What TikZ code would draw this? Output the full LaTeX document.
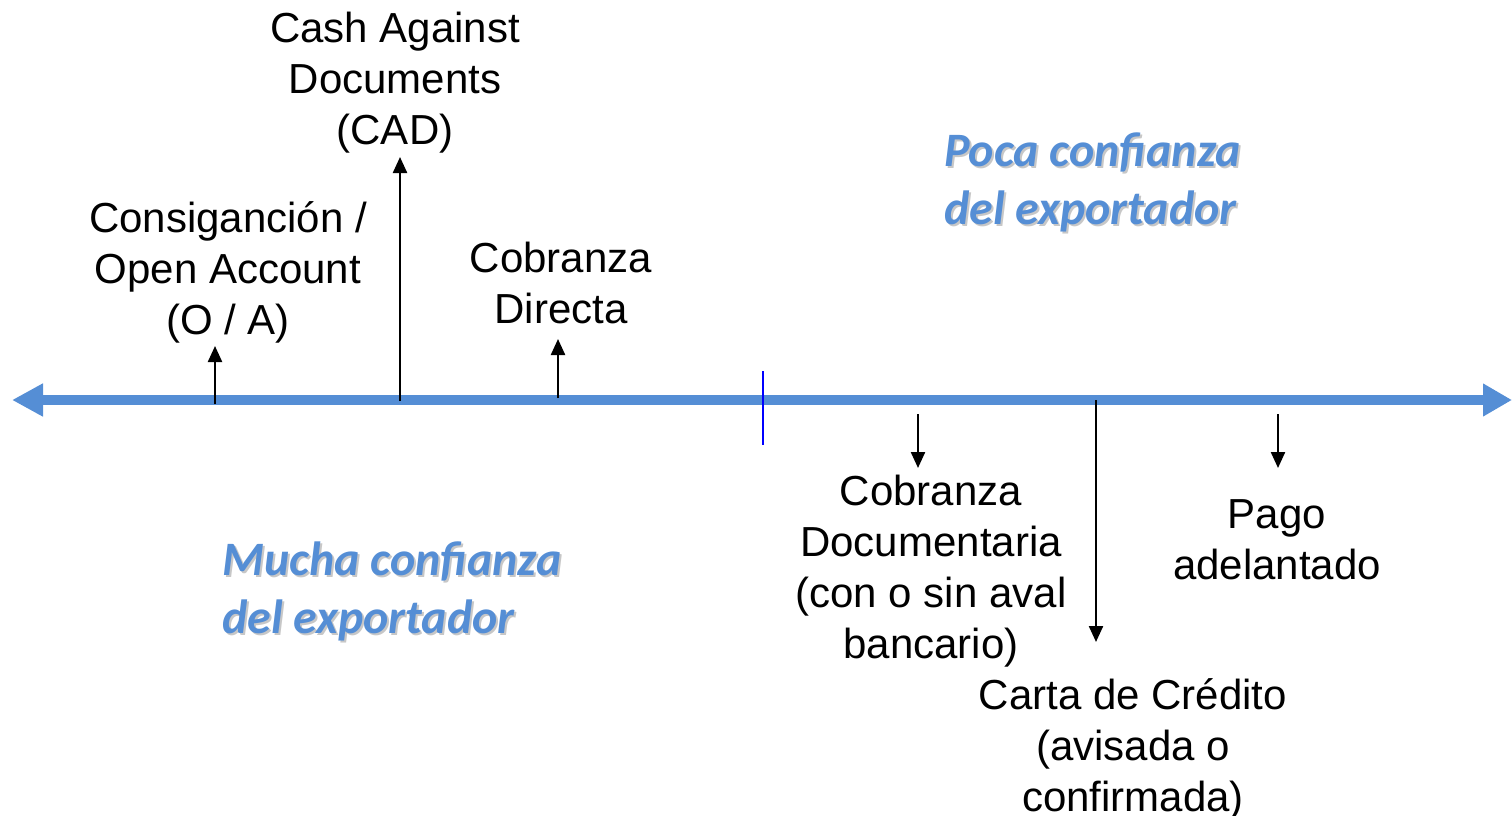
\documentclass[tikz,border=0pt]{standalone}
\usepackage{fontspec}
\setmainfont{Liberation Sans}
\newfontfamily\calfont{Carlito}
\usetikzlibrary{arrows.meta}
\definecolor{axisblue}{RGB}{85,142,213}
\definecolor{tickblue}{RGB}{0,0,255}
\tikzset{
  lbl/.style={align=center, inner sep=0pt, font=\fontsize{42}{51}\selectfont},
  conf/.style={align=left, inner sep=0pt, text=axisblue, anchor=west,
    font=\calfont\bfseries\itshape\fontsize{48}{58}\selectfont},
  confshadow/.style={conf, text=black!22},
  axisline/.style={draw=axisblue, line width=10pt,
    {Triangle[width=31pt,length=31pt]}-{Triangle[width=31pt,length=29pt]}},
  pointer/.style={draw=black, line width=2.3pt, -{Triangle[width=14pt,length=16pt]}},
  divider/.style={draw=tickblue, line width=2.5pt}
}
\begin{document}
\begin{tikzpicture}[x=1pt,y=-1pt]
\useasboundingbox (0,0) rectangle (1512,816);
% axis
\coordinate (L) at (12,400);
\coordinate (R) at (1512,400);
\draw[axisline] (L) -- (R);
% divider
\coordinate (d1) at (763,371);
\coordinate (d2) at (763,445);
\draw[divider] (d1) -- (d2);
% pointers up
\coordinate (oa0) at (215,404);  \coordinate (oa1) at (215,346);
\coordinate (cad0) at (400,401); \coordinate (cad1) at (400,157);
\coordinate (cd0) at (558,398);  \coordinate (cd1) at (558,339);
\draw[pointer] (oa0) -- (oa1);
\draw[pointer] (cad0) -- (cad1);
\draw[pointer] (cd0) -- (cd1);
% pointers down
\coordinate (doc0) at (918,414); \coordinate (doc1) at (918,468);
\coordinate (lc0) at (1096,400); \coordinate (lc1) at (1096,642);
\coordinate (pa0) at (1278,414); \coordinate (pa1) at (1278,468);
\draw[pointer] (doc0) -- (doc1);
\draw[pointer] (lc0) -- (lc1);
\draw[pointer] (pa0) -- (pa1);
% labels
\node[lbl] (cadtxt) at (395,83) {Cash Against\\Documents\\(CAD)};
\node[lbl] (oatxt) at (228,272) {Consiganción /\\Open Account\\(O / A)};
\node[lbl] (cdtxt) at (561,283) {Cobranza\\Directa};
\node[lbl] (doctxt) at (931,571) {Cobranza\\Documentaria\\(con o sin aval\\bancario)};
\node[lbl] (patxt) at (1277,540) {Pago\\adelantado};
\node[lbl] (lctxt) at (1133,749) {Carta de Crédito\\(avisada o\\confirmada)};
% confidence labels
\node[confshadow] (pocas) at (946,184) {Poca confianza\\del exportador};
\node[conf] (poca) at (944,182) {Poca confianza\\del exportador};
\node[confshadow] (muchas) at (224,593) {Mucha confianza\\del exportador};
\node[conf] (mucha) at (222,591) {Mucha confianza\\del exportador};
\end{tikzpicture}
\end{document}
